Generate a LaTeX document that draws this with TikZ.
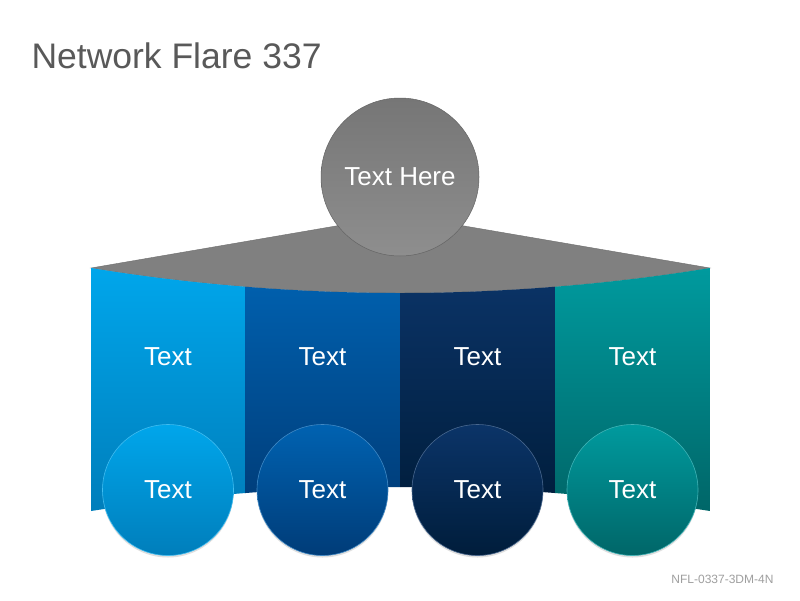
\documentclass[tikz,border=0pt]{standalone}
\usepackage{fontspec}
\setmainfont{Liberation Sans}
\usetikzlibrary{shadows}

\definecolor{titlegray}{HTML}{595959}
\definecolor{fangray}{HTML}{808080}
\definecolor{hubA}{HTML}{767676}
\definecolor{hubB}{HTML}{8E8E8E}
\definecolor{skyA}{HTML}{00A6EB}
\definecolor{skyB}{HTML}{007EBB}
\definecolor{blueA}{HTML}{0062B1}
\definecolor{blueB}{HTML}{003C78}
\definecolor{navyA}{HTML}{0B3468}
\definecolor{navyB}{HTML}{001D3B}
\definecolor{tealA}{HTML}{009A9E}
\definecolor{tealB}{HTML}{006668}

\begin{document}
\begin{tikzpicture}[x=1pt,y=-1pt,
  txtwhite/.style={text=white,font=\fontsize{26}{31}\selectfont},
  ball/.style={circle,minimum size=131pt,inner sep=0pt,txtwhite,
    draw=#1A!75!white,line width=0.6pt,top color=#1A,bottom color=#1B,
    drop shadow={shadow xshift=0pt,shadow yshift=-2pt,opacity=0.25}}]
  \useasboundingbox[fill=white] (0,0) rectangle (800,600);
  \node[anchor=base west,text=titlegray,font=\fontsize{35.5}{42}\selectfont] (title) at (28,68) {Network Flare 337};
  \node[anchor=base east,text=gray!75,font=\fontsize{12}{14}\selectfont] (code) at (777,583) {NFL-0337-3DM-4N};
  % flare under the hub
  \path[fill=fangray,draw=fangray!85!black,line width=0.4pt]
    (91,268) -- (400,215) -- (710,268) parabola bend (400,293) (91,268) -- cycle;
  % panels
  \foreach \xa/\xb/\c [count=\i] in {91/245/sky,245/400/blue,400/555/navy,555/710/teal}{
    \begin{scope}
      \clip (\xa,200) rectangle (\xb,600);
      \shade[top color=\c A,bottom color=\c B]
        (91,268) parabola bend (400,293) (710,268) -- (710,511)
        parabola bend (400,487) (91,511) -- cycle;
    \end{scope}
    \node[txtwhite] (p\i) at ({(\xa+\xb)/2},357) {Text};
  }
  \foreach \xa/\xb/\c [count=\i] in {91/245/sky,245/400/blue,400/555/navy,555/710/teal}
    \node[ball=\c] (c\i) at ({(\xa+\xb)/2},490) {Text};
  \node[circle,minimum size=158pt,inner sep=0pt,top color=hubA,bottom color=hubB,
    draw=hubA!85!black,line width=0.5pt,txtwhite] (hub) at (400,177) {Text Here};
\end{tikzpicture}
\end{document}
